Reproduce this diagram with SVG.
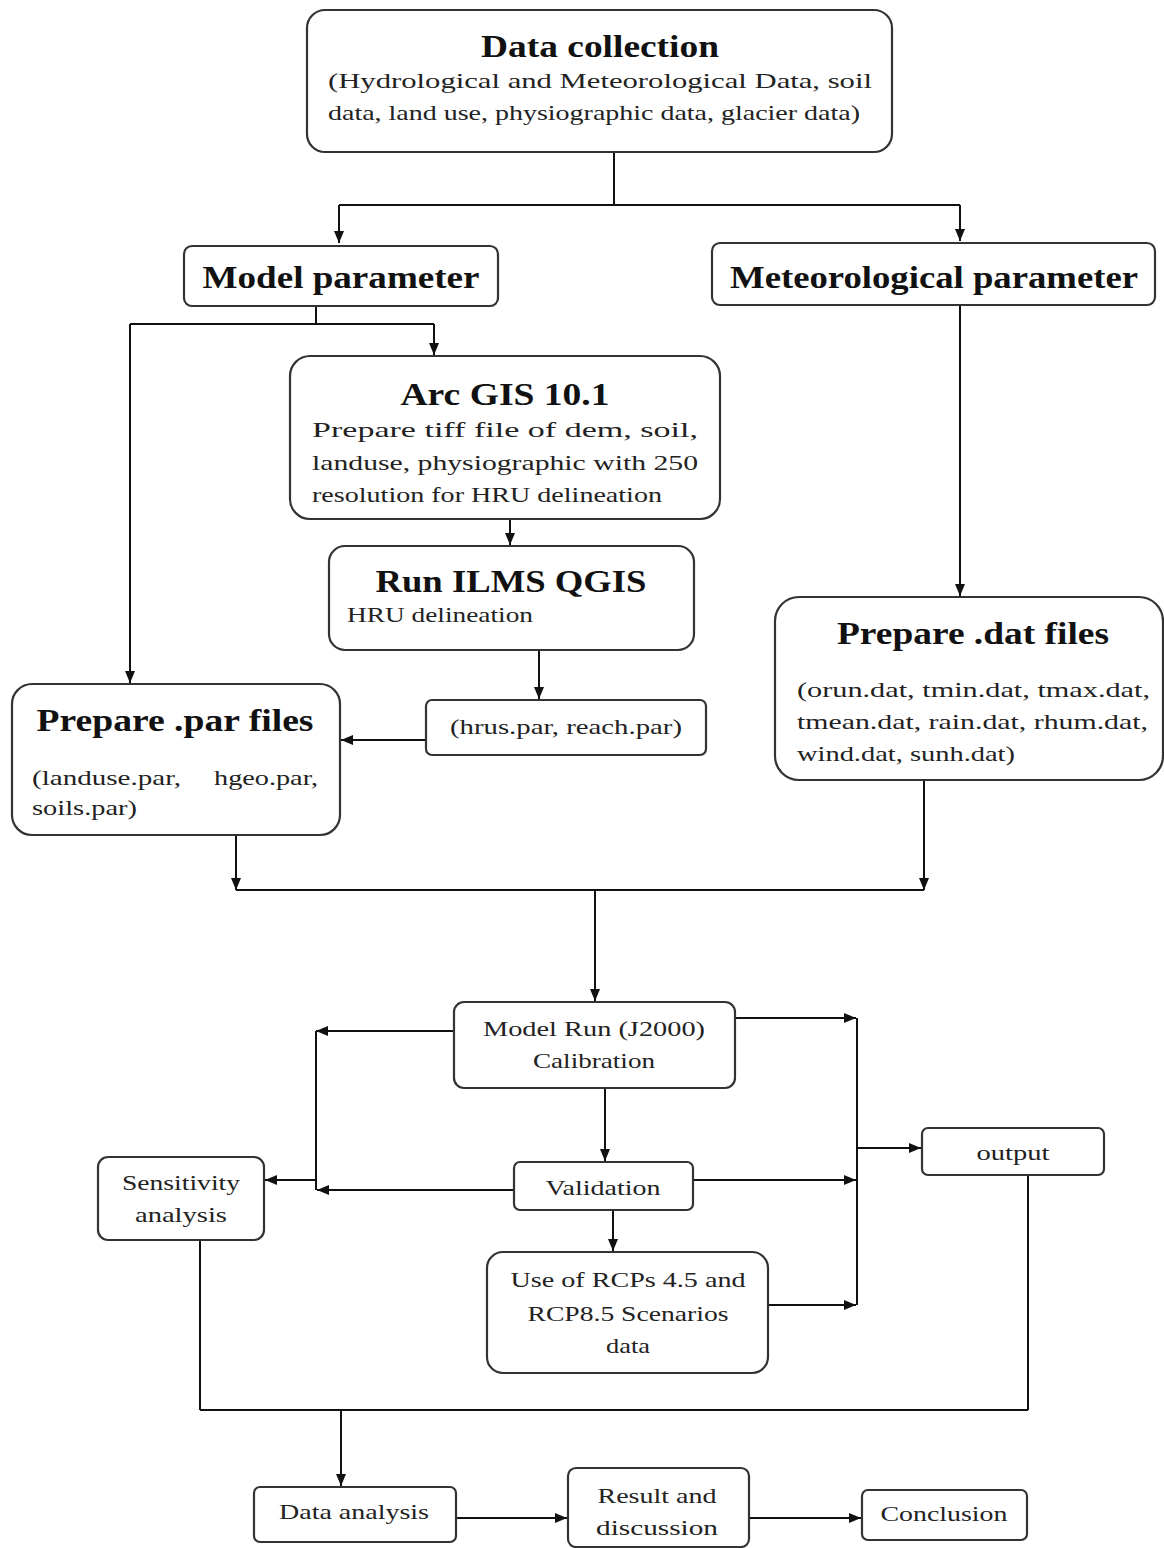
<svg xmlns="http://www.w3.org/2000/svg" width="1164" height="1548" viewBox="0 0 1164 1548">
<defs>
<marker id="ah" viewBox="0 0 12 10" refX="12" refY="5" markerWidth="12" markerHeight="10" markerUnits="userSpaceOnUse" orient="auto">
<path d="M0,0 L12,5 L0,10 z" fill="#111"/>
</marker>
</defs>
<style>
.box{fill:#fff;stroke:#333;stroke-width:2.2}
.t{font-family:"Liberation Serif","Times New Roman",serif;font-weight:bold;font-size:32px;fill:#111}
.b{font-family:"Liberation Serif","Times New Roman",serif;font-size:22px;fill:#222}
.c line{stroke:#111;stroke-width:2;fill:none}
</style>
<rect width="1164" height="1548" fill="#fff"/>

<g class="c" id="connectors">
<line x1="614" y1="152" x2="614" y2="205"/>
<line x1="339" y1="205" x2="960" y2="205"/>
<line x1="339" y1="205" x2="339" y2="243" marker-end="url(#ah)"/>
<line x1="960" y1="205" x2="960" y2="241" marker-end="url(#ah)"/>
<line x1="316" y1="306" x2="316" y2="324"/>
<line x1="130" y1="324" x2="434" y2="324"/>
<line x1="434" y1="324" x2="434" y2="355" marker-end="url(#ah)"/>
<line x1="130" y1="324" x2="130" y2="683" marker-end="url(#ah)"/>
<line x1="510" y1="519" x2="510" y2="545" marker-end="url(#ah)"/>
<line x1="539" y1="650" x2="539" y2="699" marker-end="url(#ah)"/>
<line x1="426" y1="740" x2="341" y2="740" marker-end="url(#ah)"/>
<line x1="960" y1="305" x2="960" y2="596" marker-end="url(#ah)"/>
<line x1="236" y1="835" x2="236" y2="890" marker-end="url(#ah)"/>
<line x1="924" y1="780" x2="924" y2="890" marker-end="url(#ah)"/>
<line x1="236" y1="890" x2="924" y2="890"/>
<line x1="595" y1="890" x2="595" y2="1001" marker-end="url(#ah)"/>
<line x1="454" y1="1031" x2="316" y2="1031" marker-end="url(#ah)"/>
<line x1="316" y1="1031" x2="316" y2="1190"/>
<line x1="316" y1="1180" x2="265" y2="1180" marker-end="url(#ah)"/>
<line x1="514" y1="1190" x2="317" y2="1190" marker-end="url(#ah)"/>
<line x1="605" y1="1088" x2="605" y2="1161" marker-end="url(#ah)"/>
<line x1="613" y1="1210" x2="613" y2="1251" marker-end="url(#ah)"/>
<line x1="735" y1="1018" x2="856" y2="1018" marker-end="url(#ah)"/>
<line x1="693" y1="1180" x2="856" y2="1180" marker-end="url(#ah)"/>
<line x1="768" y1="1305" x2="856" y2="1305" marker-end="url(#ah)"/>
<line x1="857" y1="1018" x2="857" y2="1305"/>
<line x1="857" y1="1148" x2="921" y2="1148" marker-end="url(#ah)"/>
<line x1="200" y1="1240" x2="200" y2="1410"/>
<line x1="1028" y1="1175" x2="1028" y2="1410"/>
<line x1="200" y1="1410" x2="1028" y2="1410"/>
<line x1="341" y1="1410" x2="341" y2="1486" marker-end="url(#ah)"/>
<line x1="456" y1="1518" x2="567" y2="1518" marker-end="url(#ah)"/>
<line x1="749" y1="1518" x2="861" y2="1518" marker-end="url(#ah)"/>
</g>

<g id="data-collection">
<rect class="box" x="307" y="10" width="585" height="142" rx="18"/>
<text class="t" x="600" y="57" text-anchor="middle" textLength="238" lengthAdjust="spacingAndGlyphs">Data collection</text>
<text class="b" x="328" y="88" textLength="544" lengthAdjust="spacingAndGlyphs">(Hydrological  and  Meteorological  Data,  soil</text>
<text class="b" x="328" y="120" textLength="532" lengthAdjust="spacingAndGlyphs">data, land use, physiographic data, glacier data)</text>
</g>

<g id="model-parameter">
<rect class="box" x="184" y="246" width="314" height="60" rx="8"/>
<text class="t" x="341" y="288" text-anchor="middle" textLength="277" lengthAdjust="spacingAndGlyphs">Model parameter</text>
</g>

<g id="meteorological-parameter">
<rect class="box" x="712" y="243" width="443" height="62" rx="8"/>
<text class="t" x="934" y="288" text-anchor="middle" textLength="408" lengthAdjust="spacingAndGlyphs">Meteorological parameter</text>
</g>

<g id="arc-gis">
<rect class="box" x="290" y="356" width="430" height="163" rx="20"/>
<text class="t" x="505" y="405" text-anchor="middle" textLength="209" lengthAdjust="spacingAndGlyphs">Arc GIS 10.1</text>
<text class="b" x="312" y="437" textLength="386" lengthAdjust="spacingAndGlyphs">Prepare  tiff  file  of  dem,  soil,</text>
<text class="b" x="312" y="470" textLength="386" lengthAdjust="spacingAndGlyphs">landuse,  physiographic  with  250</text>
<text class="b" x="312" y="502" textLength="350" lengthAdjust="spacingAndGlyphs">resolution for HRU delineation</text>
</g>

<g id="run-ilms-qgis">
<rect class="box" x="329" y="546" width="365" height="104" rx="16"/>
<text class="t" x="511" y="592" text-anchor="middle" textLength="271" lengthAdjust="spacingAndGlyphs">Run ILMS QGIS</text>
<text class="b" x="347" y="622" textLength="186" lengthAdjust="spacingAndGlyphs">HRU delineation</text>
</g>

<g id="hrus-reach">
<rect class="box" x="426" y="700" width="280" height="55" rx="6"/>
<text class="b" x="566" y="734" text-anchor="middle" textLength="232" lengthAdjust="spacingAndGlyphs">(hrus.par, reach.par)</text>
</g>

<g id="prepare-par">
<rect class="box" x="12" y="684" width="328" height="151" rx="20"/>
<text class="t" x="175" y="731" text-anchor="middle" textLength="277" lengthAdjust="spacingAndGlyphs">Prepare .par files</text>
<text class="b" x="32" y="785" textLength="149" lengthAdjust="spacingAndGlyphs">(landuse.par,</text>
<text class="b" x="214" y="785" textLength="104" lengthAdjust="spacingAndGlyphs">hgeo.par,</text>
<text class="b" x="32" y="815" textLength="105" lengthAdjust="spacingAndGlyphs">soils.par)</text>
</g>

<g id="prepare-dat">
<rect class="box" x="775" y="597" width="388" height="183" rx="24"/>
<text class="t" x="973" y="644" text-anchor="middle" textLength="272" lengthAdjust="spacingAndGlyphs">Prepare .dat files</text>
<text class="b" x="797" y="697" textLength="353" lengthAdjust="spacingAndGlyphs">(orun.dat,  tmin.dat,  tmax.dat,</text>
<text class="b" x="797" y="729" textLength="351" lengthAdjust="spacingAndGlyphs">tmean.dat,  rain.dat,  rhum.dat,</text>
<text class="b" x="797" y="761" textLength="218" lengthAdjust="spacingAndGlyphs">wind.dat, sunh.dat)</text>
</g>

<g id="model-run">
<rect class="box" x="454" y="1002" width="281" height="86" rx="10"/>
<text class="b" x="594" y="1036" text-anchor="middle" textLength="222" lengthAdjust="spacingAndGlyphs">Model Run (J2000)</text>
<text class="b" x="594" y="1068" text-anchor="middle" textLength="122" lengthAdjust="spacingAndGlyphs">Calibration</text>
</g>

<g id="validation">
<rect class="box" x="514" y="1162" width="179" height="48" rx="6"/>
<text class="b" x="603" y="1195" text-anchor="middle" textLength="115" lengthAdjust="spacingAndGlyphs">Validation</text>
</g>

<g id="rcp">
<rect class="box" x="487" y="1252" width="281" height="121" rx="16"/>
<text class="b" x="628" y="1287" text-anchor="middle" textLength="235" lengthAdjust="spacingAndGlyphs">Use of RCPs 4.5 and</text>
<text class="b" x="628" y="1321" text-anchor="middle" textLength="201" lengthAdjust="spacingAndGlyphs">RCP8.5 Scenarios</text>
<text class="b" x="628" y="1353" text-anchor="middle" textLength="44" lengthAdjust="spacingAndGlyphs">data</text>
</g>

<g id="output">
<rect class="box" x="922" y="1128" width="182" height="47" rx="6"/>
<text class="b" x="1013" y="1160" text-anchor="middle" textLength="73" lengthAdjust="spacingAndGlyphs">output</text>
</g>

<g id="sensitivity">
<rect class="box" x="98" y="1157" width="166" height="83" rx="10"/>
<text class="b" x="181" y="1190" text-anchor="middle" textLength="118" lengthAdjust="spacingAndGlyphs">Sensitivity</text>
<text class="b" x="181" y="1222" text-anchor="middle" textLength="92" lengthAdjust="spacingAndGlyphs">analysis</text>
</g>

<g id="data-analysis">
<rect class="box" x="254" y="1487" width="202" height="55" rx="6"/>
<text class="b" x="354" y="1519" text-anchor="middle" textLength="150" lengthAdjust="spacingAndGlyphs">Data analysis</text>
</g>

<g id="result-discussion">
<rect class="box" x="568" y="1468" width="181" height="79" rx="8"/>
<text class="b" x="657" y="1503" text-anchor="middle" textLength="119" lengthAdjust="spacingAndGlyphs">Result and</text>
<text class="b" x="657" y="1535" text-anchor="middle" textLength="122" lengthAdjust="spacingAndGlyphs">discussion</text>
</g>

<g id="conclusion">
<rect class="box" x="862" y="1490" width="165" height="50" rx="6"/>
<text class="b" x="944" y="1521" text-anchor="middle" textLength="127" lengthAdjust="spacingAndGlyphs">Conclusion</text>
</g>
</svg>
